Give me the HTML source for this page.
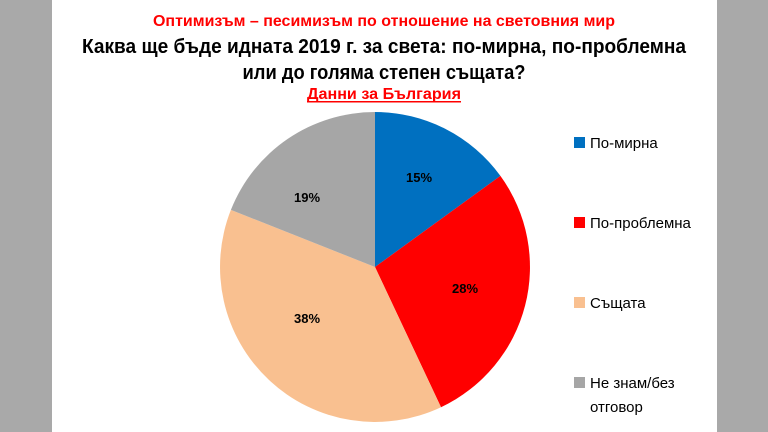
<!DOCTYPE html>
<html><head><meta charset="utf-8"><style>
html,body{margin:0;padding:0;background:#a9a9a9;}
svg{display:block;}
text{font-family:"Liberation Sans","DejaVu Sans",sans-serif;}
</style></head><body>
<svg width="768" height="432" viewBox="0 0 768 432">
<rect x="0" y="0" width="768" height="432" fill="#a9a9a9"/>
<rect x="52" y="0" width="665" height="432" fill="#ffffff"/>
<text x="384" y="26" text-anchor="middle" font-size="16" font-weight="bold" fill="#ff0000" textLength="462" lengthAdjust="spacingAndGlyphs">Оптимизъм – песимизъм по отношение на световния мир</text>
<text x="384" y="53" text-anchor="middle" font-size="20" font-weight="bold" fill="#000" textLength="604" lengthAdjust="spacingAndGlyphs">Каква ще бъде идната 2019 г. за света: по-мирна, по-проблемна</text>
<text x="384" y="79" text-anchor="middle" font-size="20" font-weight="bold" fill="#000" textLength="283" lengthAdjust="spacingAndGlyphs">или до голяма степен същата?</text>
<text x="384" y="99" text-anchor="middle" font-size="16" font-weight="bold" fill="#ff0000" textLength="154" lengthAdjust="spacingAndGlyphs">Данни за България</text>
<rect x="307" y="101" width="154" height="1.5" fill="#ff0000"/>
<path d="M375,267 L375,112 A155,155 0 0 1 500.4,175.9 Z" fill="#0070c0"/>
<path d="M375,267 L500.4,175.9 A155,155 0 0 1 441.0,407.2 Z" fill="#ff0000"/>
<path d="M375,267 L441.0,407.2 A155,155 0 0 1 230.9,209.9 Z" fill="#f9c090"/>
<path d="M375,267 L230.9,209.9 A155,155 0 0 1 375,112 Z" fill="#a6a6a6"/>
<g font-size="13" font-weight="bold" fill="#000" text-anchor="middle">
<text x="419" y="182">15%</text>
<text x="465" y="293">28%</text>
<text x="307" y="323">38%</text>
<text x="307" y="202">19%</text>
</g>
<rect x="574" y="137" width="11" height="11" fill="#0070c0"/>
<rect x="574" y="217" width="11" height="11" fill="#ff0000"/>
<rect x="574" y="297" width="11" height="11" fill="#f9c090"/>
<rect x="574" y="377" width="11" height="11" fill="#a6a6a6"/>
<g font-size="15" fill="#000">
<text x="590" y="148">По-мирна</text>
<text x="590" y="228">По-проблемна</text>
<text x="590" y="308">Същата</text>
<text x="590" y="388">Не знам/без</text>
<text x="590" y="412">отговор</text>
</g>
</svg>
</body></html>
